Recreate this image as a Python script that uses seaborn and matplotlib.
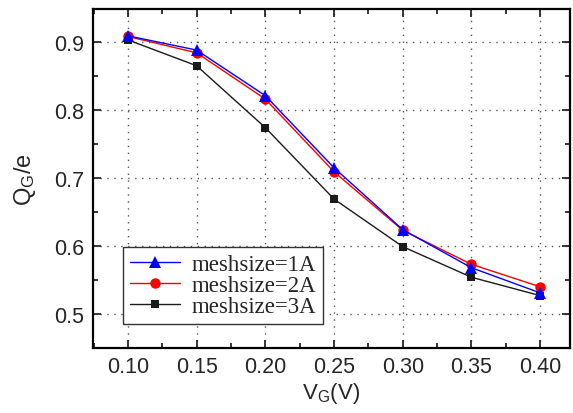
import pandas as pd
import matplotlib
matplotlib.use('Agg')
import matplotlib.pyplot as plt
import seaborn as sns
from matplotlib.ticker import MultipleLocator

# Values
vg = [0.10, 0.15, 0.20, 0.25, 0.30, 0.35, 0.40]
q_1a = [0.909, 0.888, 0.821, 0.715, 0.624, 0.568, 0.531]
q_2a = [0.908, 0.884, 0.816, 0.709, 0.623, 0.573, 0.540]
q_3a = [0.903, 0.865, 0.774, 0.669, 0.599, 0.554, 0.527]
labels = ['meshsize=1A', 'meshsize=2A', 'meshsize=3A']
x_ticks = [0.10, 0.15, 0.20, 0.25, 0.30, 0.35, 0.40]
y_ticks = [0.5, 0.6, 0.7, 0.8, 0.9]

df = pd.DataFrame({
    'VG': vg * 3,
    'QG': q_1a + q_2a + q_3a,
    'mesh': [labels[0]] * 7 + [labels[1]] * 7 + [labels[2]] * 7,
})

sns.set_style('ticks')
plt.rcParams['font.family'] = ['Liberation Sans', 'DejaVu Sans']
plt.rcParams['mathtext.default'] = 'regular'

fig = plt.figure(figsize=(5.73, 4.14), dpi=100)
ax = fig.add_axes([0.162, 0.157, 0.833, 0.819])

styles = {
    labels[0]: dict(color='#0000ff', marker='^', markersize=9),
    labels[1]: dict(color='#ff0000', marker='o', markersize=7.5),
    labels[2]: dict(color='#1a1a1a', marker='s', markersize=6),
}
# draw 3A first so the blue series ends up on top, like the original
for name, z in zip(labels[::-1], [3, 4, 5]):
    sub = df[df['mesh'] == name]
    st = styles[name]
    sns.lineplot(data=sub, x='VG', y='QG', ax=ax, label=name,
                 color=st['color'], marker=st['marker'], markersize=st['markersize'],
                 markeredgewidth=0, linewidth=1.0, zorder=z)

ax.set_xlim(0.0745, 0.4218)
ax.set_ylim(0.45, 0.9485)
ax.set_xticks(x_ticks)
ax.set_xticklabels([f'{v:.2f}' for v in x_ticks])
ax.set_yticks(y_ticks)
ax.set_yticklabels([f'{v:.1f}' for v in y_ticks])
ax.xaxis.set_minor_locator(MultipleLocator(0.025))
ax.yaxis.set_minor_locator(MultipleLocator(0.05))
ax.tick_params(which='both', direction='in', top=True, right=True, width=1.3)
ax.tick_params(which='major', length=6, labelsize=15.5, pad=6)
ax.tick_params(which='minor', length=3.5)
for sp in ax.spines.values():
    sp.set_linewidth(1.6)
    sp.set_color('black')

ax.grid(True, which='major', linestyle=(0, (1, 4)), color='#555555', linewidth=1.0)

ax.set_xlabel('V$_G$(V)', fontsize=16, labelpad=2)
ax.set_ylabel('Q$_G$/e', fontsize=17, labelpad=12)

handles, lbls = ax.get_legend_handles_labels()
order = [lbls.index(n) for n in labels]
leg = ax.legend([handles[i] for i in order], [lbls[i] for i in order],
                loc='lower left', bbox_to_anchor=(0.063, 0.071), borderaxespad=0,
                prop={'family': 'Liberation Serif', 'size': 16.5},
                handlelength=2.2, labelspacing=0.0, borderpad=0.3,
                handletextpad=0.5, fancybox=False, framealpha=1, edgecolor='#333333')
leg.get_frame().set_linewidth(1.0)

fig.savefig('out.png', dpi=100)
